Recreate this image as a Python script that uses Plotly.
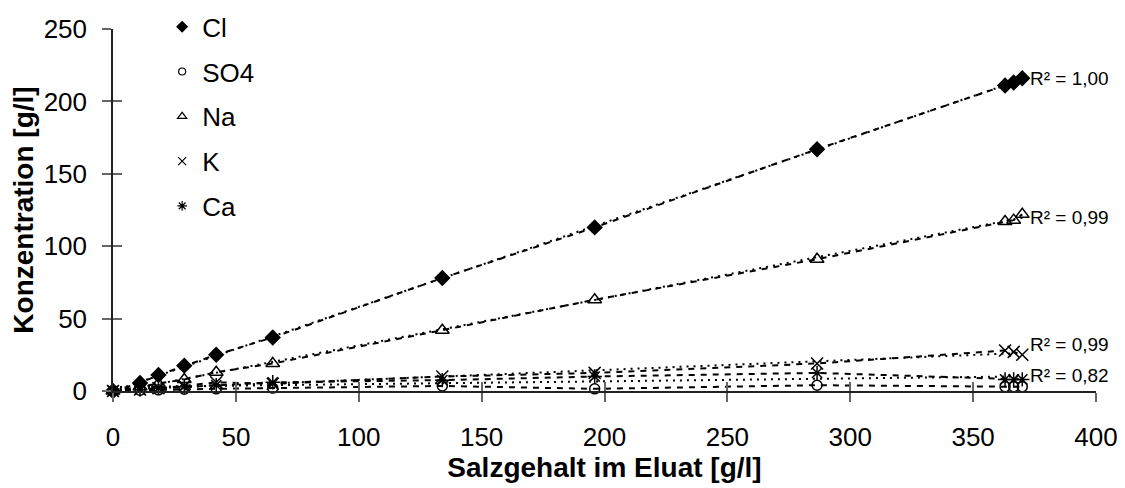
import numpy as np
import plotly.graph_objects as go

# Salzgehalt im Eluat [g/l]
salz = [0, 11, 18.5, 29, 42, 65, 134, 196, 286.5, 363, 366.5, 370]
# Konzentration [g/l]
cl  = [0, 5.5, 11, 17.5, 25, 37, 78, 113, 167, 211, 213, 216]
so4 = [0, 0.5, 0.8, 1.2, 1.5, 2, 3.5, 1.5, 4, 3, 3, 3]
na  = [0, 3, 5, 8, 13, 19, 42, 63, 91, 117, 118, 122]
k   = [0, 1, 2, 3.5, 6, 5, 10, 12.5, 19, 28, 27, 25]
ca  = [0, 1, 2, 3, 4, 6, 7.5, 10, 12.5, 8, 8, 8]

names = ["Cl", "SO4", "Na", "K", "Ca"]
series = [cl, so4, na, k, ca]
symbols = ["diamond", "circle-open", "triangle-up-open", "x-thin-open", "asterisk-open"]
sizes = [11, 10, 12, 12, 12]
legend_sizes = [8, 7, 8, 8, 8]
r2_labels = {"Cl": "R² = 1,00", "Na": "R² = 0,99", "K": "R² = 0,99", "Ca": "R² = 0,82"}
r2_y = {"Cl": 216, "Na": 120, "K": 32, "Ca": 11}

FONT = "Liberation Sans, Arial, sans-serif"
fig = go.Figure()

x = np.array(salz, dtype=float)
for i, (nm, ys) in enumerate(zip(names, series)):
    # connecting dashed line
    fig.add_trace(go.Scatter(
        x=salz, y=ys, mode="lines", line=dict(color="black", width=2, dash="6px,6px"),
        showlegend=False, hoverinfo="skip", cliponaxis=False))
    if nm in r2_labels:
        a, b = np.polyfit(x, np.array(ys, dtype=float), 1)
        xt = np.array([x.min(), x.max()])
        fig.add_trace(go.Scatter(
            x=xt, y=a * xt + b, mode="lines",
            line=dict(color="black", width=2, dash="2px,5px"),
            showlegend=False, hoverinfo="skip", cliponaxis=False))
for i, (nm, ys) in enumerate(zip(names, series)):
    fig.add_trace(go.Scatter(
        x=salz, y=ys, mode="markers", name=nm, legendgroup=nm, showlegend=False,
        marker=dict(symbol=symbols[i], size=sizes[i], color="black",
                    line=dict(color="black", width=1.5)),
        cliponaxis=False))
    # legend entry with the small legend symbol
    fig.add_trace(go.Scatter(
        x=[None], y=[None], mode="markers", name=nm, legendgroup=nm,
        marker=dict(symbol=symbols[i], size=legend_sizes[i], color="black",
                    line=dict(color="black", width=1.2))))

for nm, txt in r2_labels.items():
    fig.add_annotation(x=372.5, y=r2_y[nm], text=txt, showarrow=False,
                       xanchor="left", yanchor="middle",
                       font=dict(family=FONT, size=19, color="black"))

tick_common = dict(showgrid=False, zeroline=False, linecolor="#222", linewidth=1.5,
                   tickcolor="#666", tickwidth=1.5, ticklen=9,
                   tickfont=dict(family=FONT, size=26, color="black"))

# page body adds an 8px offset, so the figure is 8px smaller than the window
fig.update_layout(
    width=1117, height=480,
    margin=dict(l=105, r=29, t=21, b=97, autoexpand=False),
    paper_bgcolor="white", plot_bgcolor="white",
    font=dict(family=FONT, color="black"),
    xaxis=dict(range=[0, 400], dtick=50, ticks="outside", showline=True, automargin=False,
               ticklabelstandoff=13,
               title=dict(text="<b>Salzgehalt im Eluat [g/l]</b>", font=dict(size=28), standoff=5),
               **tick_common),
    yaxis=dict(range=[0, 250], dtick=50, ticks="outside", showline=True, automargin=False,
               ticklabelstandoff=10,
               title=dict(text="<b>Konzentration [g/l]</b>", font=dict(size=28), standoff=7),
               **tick_common),
    xaxis2=dict(overlaying="x", matches="x", range=[0, 400], dtick=50, ticks="inside",
                showticklabels=False, showline=False, showgrid=False, zeroline=False,
                tickcolor="#666", tickwidth=1.5, ticklen=9, anchor="y"),
    yaxis2=dict(overlaying="y", matches="y", range=[0, 250], dtick=50, ticks="inside",
                showticklabels=False, showline=False, showgrid=False, zeroline=False,
                tickcolor="#666", tickwidth=1.5, ticklen=9, anchor="x"),
    legend=dict(x=0.05, y=1.071, xanchor="left", yanchor="top",
                bgcolor="rgba(0,0,0,0)", font=dict(family=FONT, size=26),
                tracegroupgap=8, itemsizing="trace"),
    showlegend=True,
)
# invisible trace to activate the overlay axes
fig.add_trace(go.Scatter(x=[None], y=[None], xaxis="x2", yaxis="y2",
                         showlegend=False, hoverinfo="skip"))

fig.write_html("out.html")
